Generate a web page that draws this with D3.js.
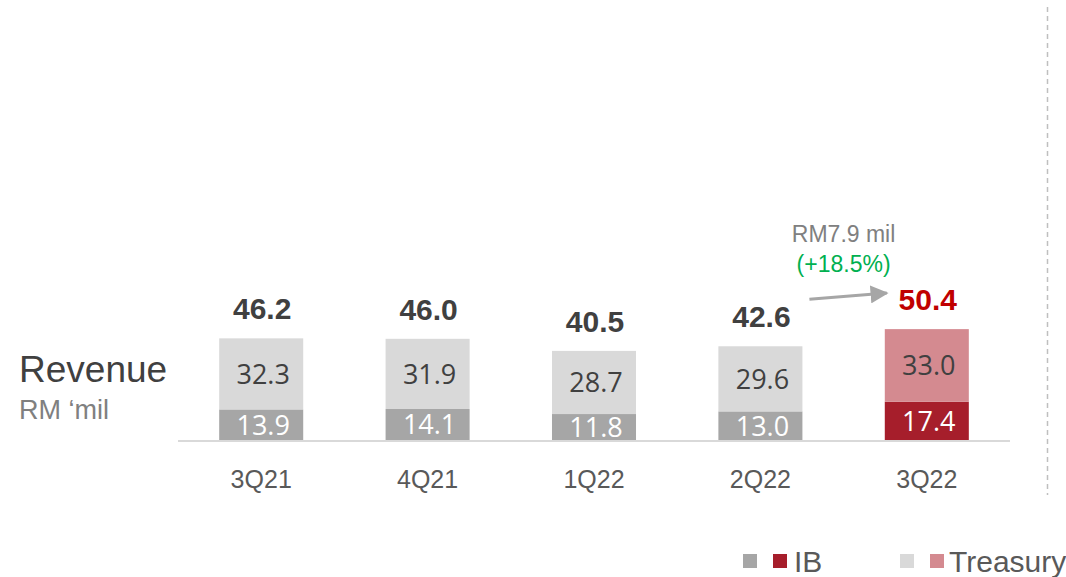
<!DOCTYPE html>
<html>
<head>
<meta charset="utf-8">
<script src="https://cdn.jsdelivr.net/npm/d3@7"></script>
<style>
  html, body { margin: 0; padding: 0; background: #fff; }
  svg { display: block; }
</style>
</head>
<body>
<svg id="chart" width="1066" height="577"></svg>
<script>
// Quarterly revenue, RM 'mil
const quarters = ["3Q21", "4Q21", "1Q22", "2Q22", "3Q22"];
const ibValues = [13.9, 14.1, 11.8, 13.0, 17.4];
const treasuryValues = [32.3, 31.9, 28.7, 29.6, 33.0];
const totalValues = [46.2, 46.0, 40.5, 42.6, 50.4];
const changeLabel = "RM7.9 mil";
const changePct = "(+18.5%)";
const legendLabels = ["IB", "Treasury"];

const svg = d3.select("#chart");
const baseY = 440;

const x = d3.scaleBand()
  .domain(quarters)
  .range([178, 1010])
  .paddingInner(0.495)
  .paddingOuter(0.2475);

const y = d3.scaleLinear().domain([0, 100]).range([baseY, baseY - 220]);

const latest = quarters[quarters.length - 1];
const ibColor = q => q === latest ? "#a61e2b" : "#a6a6a6";
const trColor = q => q === latest ? "#d48a90" : "#d9d9d9";

const rows = quarters.map((q, i) => ({
  q, ib: ibValues[i], tr: treasuryValues[i], total: totalValues[i]
}));

// bars
const g = svg.append("g");
g.selectAll("rect.ib").data(rows).join("rect")
  .attr("class", "ib")
  .attr("x", d => x(d.q))
  .attr("width", x.bandwidth())
  .attr("y", d => y(d.ib))
  .attr("height", d => y(0) - y(d.ib))
  .attr("fill", d => ibColor(d.q));

g.selectAll("rect.tr").data(rows).join("rect")
  .attr("class", "tr")
  .attr("x", d => x(d.q))
  .attr("width", x.bandwidth())
  .attr("y", d => y(d.ib + d.tr))
  .attr("height", d => y(d.ib) - y(d.ib + d.tr))
  .attr("fill", d => trColor(d.q));

// segment value labels
const segFont = "'Open Sans', 'DejaVu Sans', sans-serif";
g.selectAll("text.ibv").data(rows).join("text")
  .attr("class", "ibv")
  .attr("x", d => x(d.q) + x.bandwidth() / 2 + 2)
  .attr("y", d => (y(0) + y(d.ib)) / 2 + 10)
  .attr("text-anchor", "middle")
  .attr("font-family", segFont)
  .attr("font-size", 27)
  .attr("fill", "#ffffff")
  .text(d => d.ib.toFixed(1));

g.selectAll("text.trv").data(rows).join("text")
  .attr("class", "trv")
  .attr("x", d => x(d.q) + x.bandwidth() / 2 + 2)
  .attr("y", d => (y(d.ib) + y(d.ib + d.tr)) / 2 + 10)
  .attr("text-anchor", "middle")
  .attr("font-family", segFont)
  .attr("font-size", 27)
  .attr("fill", "#404040")
  .text(d => d.tr.toFixed(1));

// totals
g.selectAll("text.tot").data(rows).join("text")
  .attr("class", "tot")
  .attr("x", d => x(d.q) + x.bandwidth() / 2 + 1)
  .attr("y", d => y(d.total) - 19)
  .attr("text-anchor", "middle")
  .attr("font-family", "Arial, 'Liberation Sans', sans-serif")
  .attr("font-weight", "bold")
  .attr("font-size", 30)
  .attr("fill", d => d.q === latest ? "#c00000" : "#404040")
  .text(d => d.total.toFixed(1));

// baseline
svg.append("line")
  .attr("x1", x.range()[0]).attr("x2", x.range()[1])
  .attr("y1", baseY + 1).attr("y2", baseY + 1)
  .attr("stroke", "#d9d9d9").attr("stroke-width", 2);

// category axis
const axis = svg.append("g")
  .attr("transform", `translate(0,${baseY})`)
  .call(d3.axisBottom(x).tickSize(0).tickPadding(30));
axis.select(".domain").remove();
axis.selectAll("text")
  .attr("font-family", "Arial, 'Liberation Sans', sans-serif")
  .attr("font-size", 25)
  .attr("fill", "#595959");

// axis title
svg.append("text")
  .attr("x", 19).attr("y", 382)
  .attr("font-family", "Arial, 'Liberation Sans', sans-serif")
  .attr("font-size", 37)
  .attr("fill", "#404040")
  .text("Revenue");
svg.append("text")
  .attr("x", 19).attr("y", 419)
  .attr("font-family", "Arial, 'Liberation Sans', sans-serif")
  .attr("font-size", 27)
  .attr("fill", "#808080")
  .text("RM \u2018mil");

// growth annotation
const i3 = quarters.length - 1, i2 = quarters.length - 2;
const annX = (x(quarters[i2]) + x.bandwidth() + x(quarters[i3])) / 2;
svg.append("text")
  .attr("x", annX).attr("y", 242)
  .attr("text-anchor", "middle")
  .attr("font-family", "Arial, 'Liberation Sans', sans-serif")
  .attr("font-size", 23)
  .attr("fill", "#808080")
  .text(changeLabel);
svg.append("text")
  .attr("x", annX).attr("y", 272)
  .attr("text-anchor", "middle")
  .attr("font-family", "Arial, 'Liberation Sans', sans-serif")
  .attr("font-size", 23)
  .attr("fill", "#00b050")
  .text(changePct);

svg.append("defs").append("marker")
  .attr("id", "arrowhead")
  .attr("viewBox", "0 0 10 10")
  .attr("refX", 9).attr("refY", 5)
  .attr("markerWidth", 6).attr("markerHeight", 6)
  .attr("markerUnits", "strokeWidth")
  .attr("orient", "auto")
  .append("path")
  .attr("d", "M0,0 L10,5 L0,10 Z")
  .attr("fill", "#a6a6a6");

const ax1 = x(quarters[i2]) + x.bandwidth() + 7;
const ax2 = x(quarters[i3]) + 2;
svg.append("line")
  .attr("x1", ax1).attr("y1", y(totalValues[i2]) - 47)
  .attr("x2", ax2).attr("y2", y(totalValues[i3]) - 36)
  .attr("stroke", "#a6a6a6").attr("stroke-width", 3)
  .attr("marker-end", "url(#arrowhead)");

// divider
svg.append("line")
  .attr("x1", 1047.5).attr("x2", 1047.5)
  .attr("y1", 7).attr("y2", 495)
  .attr("stroke", "#bfbfbf").attr("stroke-width", 1.5)
  .attr("stroke-dasharray", "5,4");

// legend
const legend = svg.append("g");
const legendItems = [
  { label: legendLabels[0], c1: "#a6a6a6", c2: "#a61e2b", x: 743, tx: 794 },
  { label: legendLabels[1], c1: "#d9d9d9", c2: "#d48a90", x: 900, tx: 949 }
];
legendItems.forEach(it => {
  legend.append("rect").attr("x", it.x).attr("y", 554).attr("width", 14).attr("height", 14).attr("fill", it.c1);
  legend.append("rect").attr("x", it.x + 30).attr("y", 554).attr("width", 14).attr("height", 14).attr("fill", it.c2);
  legend.append("text")
    .attr("x", it.tx).attr("y", 572)
    .attr("font-family", "Arial, 'Liberation Sans', sans-serif")
    .attr("font-size", 30)
    .attr("fill", "#595959")
    .text(it.label);
});
</script>
</body>
</html>
